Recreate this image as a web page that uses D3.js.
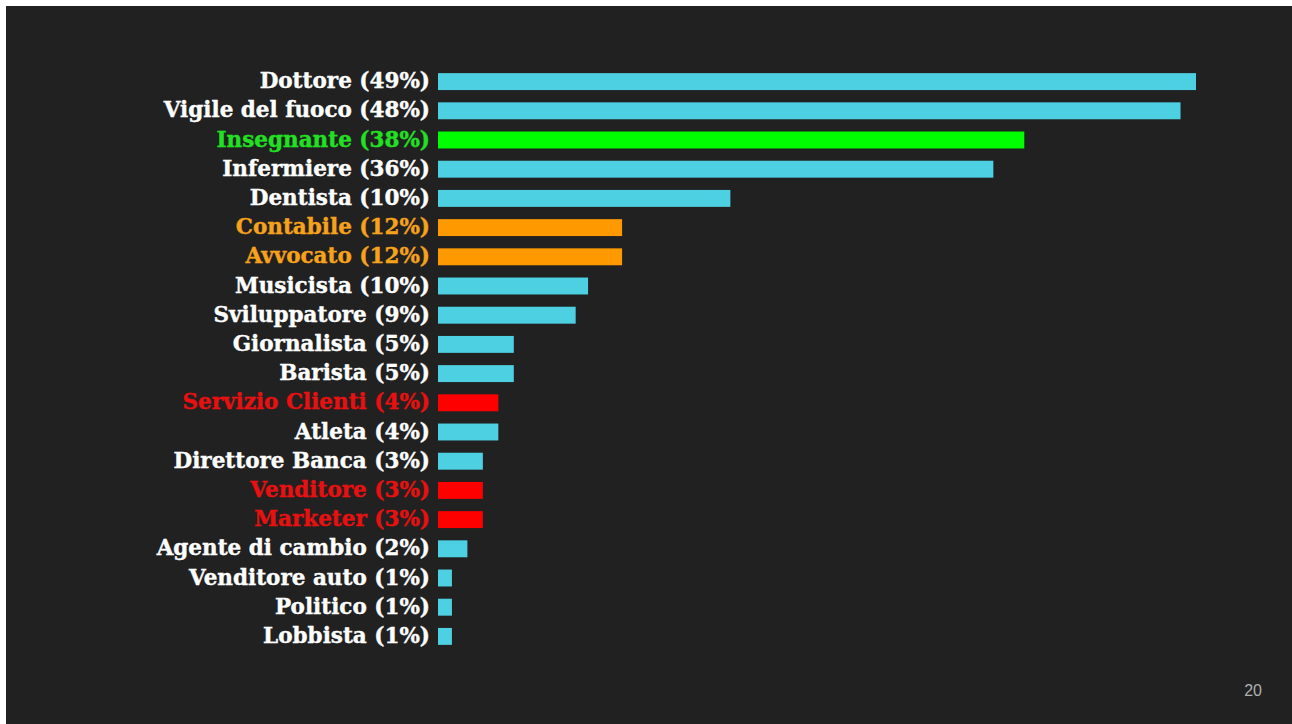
<!DOCTYPE html>
<html>
<head>
<meta charset="utf-8">
<script src="https://cdn.jsdelivr.net/npm/d3@7"></script>
<style>
    html, body { margin: 0; padding: 0; background: #ffffff; }
    svg { display: block; }
</style>
</head>
<body>
<svg id="chart"></svg>
<script>
// labels as printed on the slide (the printed % does not always match the bar)
const labels = [
    "Dottore (49%)", "Vigile del fuoco (48%)", "Insegnante (38%)", "Infermiere (36%)",
    "Dentista (10%)", "Contabile (12%)", "Avvocato (12%)", "Musicista (10%)",
    "Sviluppatore (9%)", "Giornalista (5%)", "Barista (5%)", "Servizio Clienti (4%)",
    "Atleta (4%)", "Direttore Banca (3%)", "Venditore (3%)", "Marketer (3%)",
    "Agente di cambio (2%)", "Venditore auto (1%)", "Politico (1%)", "Lobbista (1%)"
];
// bar lengths
const values = [49, 48, 37.9, 35.9, 18.9, 11.9, 11.9, 9.7, 8.9, 4.9, 4.9, 3.9, 3.9, 2.9, 2.9, 2.9, 1.9, 0.9, 0.9, 0.9];
// highlight group per row
const groups = [
    "base", "base", "good", "base", "base", "mid", "mid", "base", "base", "base",
    "base", "bad", "base", "base", "bad", "bad", "base", "base", "base", "base"
];
const pageNumber = "20";

const W = 1292, H = 724;
const barColors = { base: "#4dd0e1", good: "#00ff00", mid: "#ff9900", bad: "#ff0000" };
const textColors = { base: "#ffffff", good: "#22e022", mid: "#f7a21b", bad: "#e81010" };

const rows = labels.map((l, i) => ({ label: l, value: values[i], group: groups[i] }));

const svg = d3.select("#chart").attr("width", W).attr("height", H);

// slide background
svg.append("rect")
    .attr("x", 6).attr("y", 6)
    .attr("width", W - 6).attr("height", H - 6)
    .attr("fill", "#212121");

const x = d3.scaleLinear().domain([0, 49]).range([438, 1196]);
const y = d3.scaleBand().domain(labels).range([67, 651])
    .paddingInner(0.42).paddingOuter(0.21);

svg.append("g").selectAll("rect")
    .data(rows)
    .join("rect")
    .attr("x", x(0))
    .attr("y", d => y(d.label))
    .attr("width", d => x(d.value) - x(0))
    .attr("height", y.bandwidth())
    .attr("fill", d => barColors[d.group]);

svg.append("g").selectAll("text")
    .data(rows)
    .join("text")
    .attr("x", 430)
    .attr("y", d => y(d.label) + y.bandwidth() / 2)
    .attr("dy", "0.31em")
    .attr("text-anchor", "end")
    .style("font-family", "'DejaVu Serif', serif")
    .style("font-weight", "bold")
    .style("font-size", "21.5px")
    .attr("fill", d => textColors[d.group])
    .attr("stroke", d => textColors[d.group])
    .attr("stroke-width", 0.4)
    .text(d => d.label);

svg.append("text")
    .attr("x", 1262)
    .attr("y", 696)
    .attr("text-anchor", "end")
    .style("font-family", "Arial, 'Liberation Sans', sans-serif")
    .style("font-size", "16px")
    .attr("fill", "#b0b0b0")
    .text(pageNumber);
</script>
</body>
</html>
